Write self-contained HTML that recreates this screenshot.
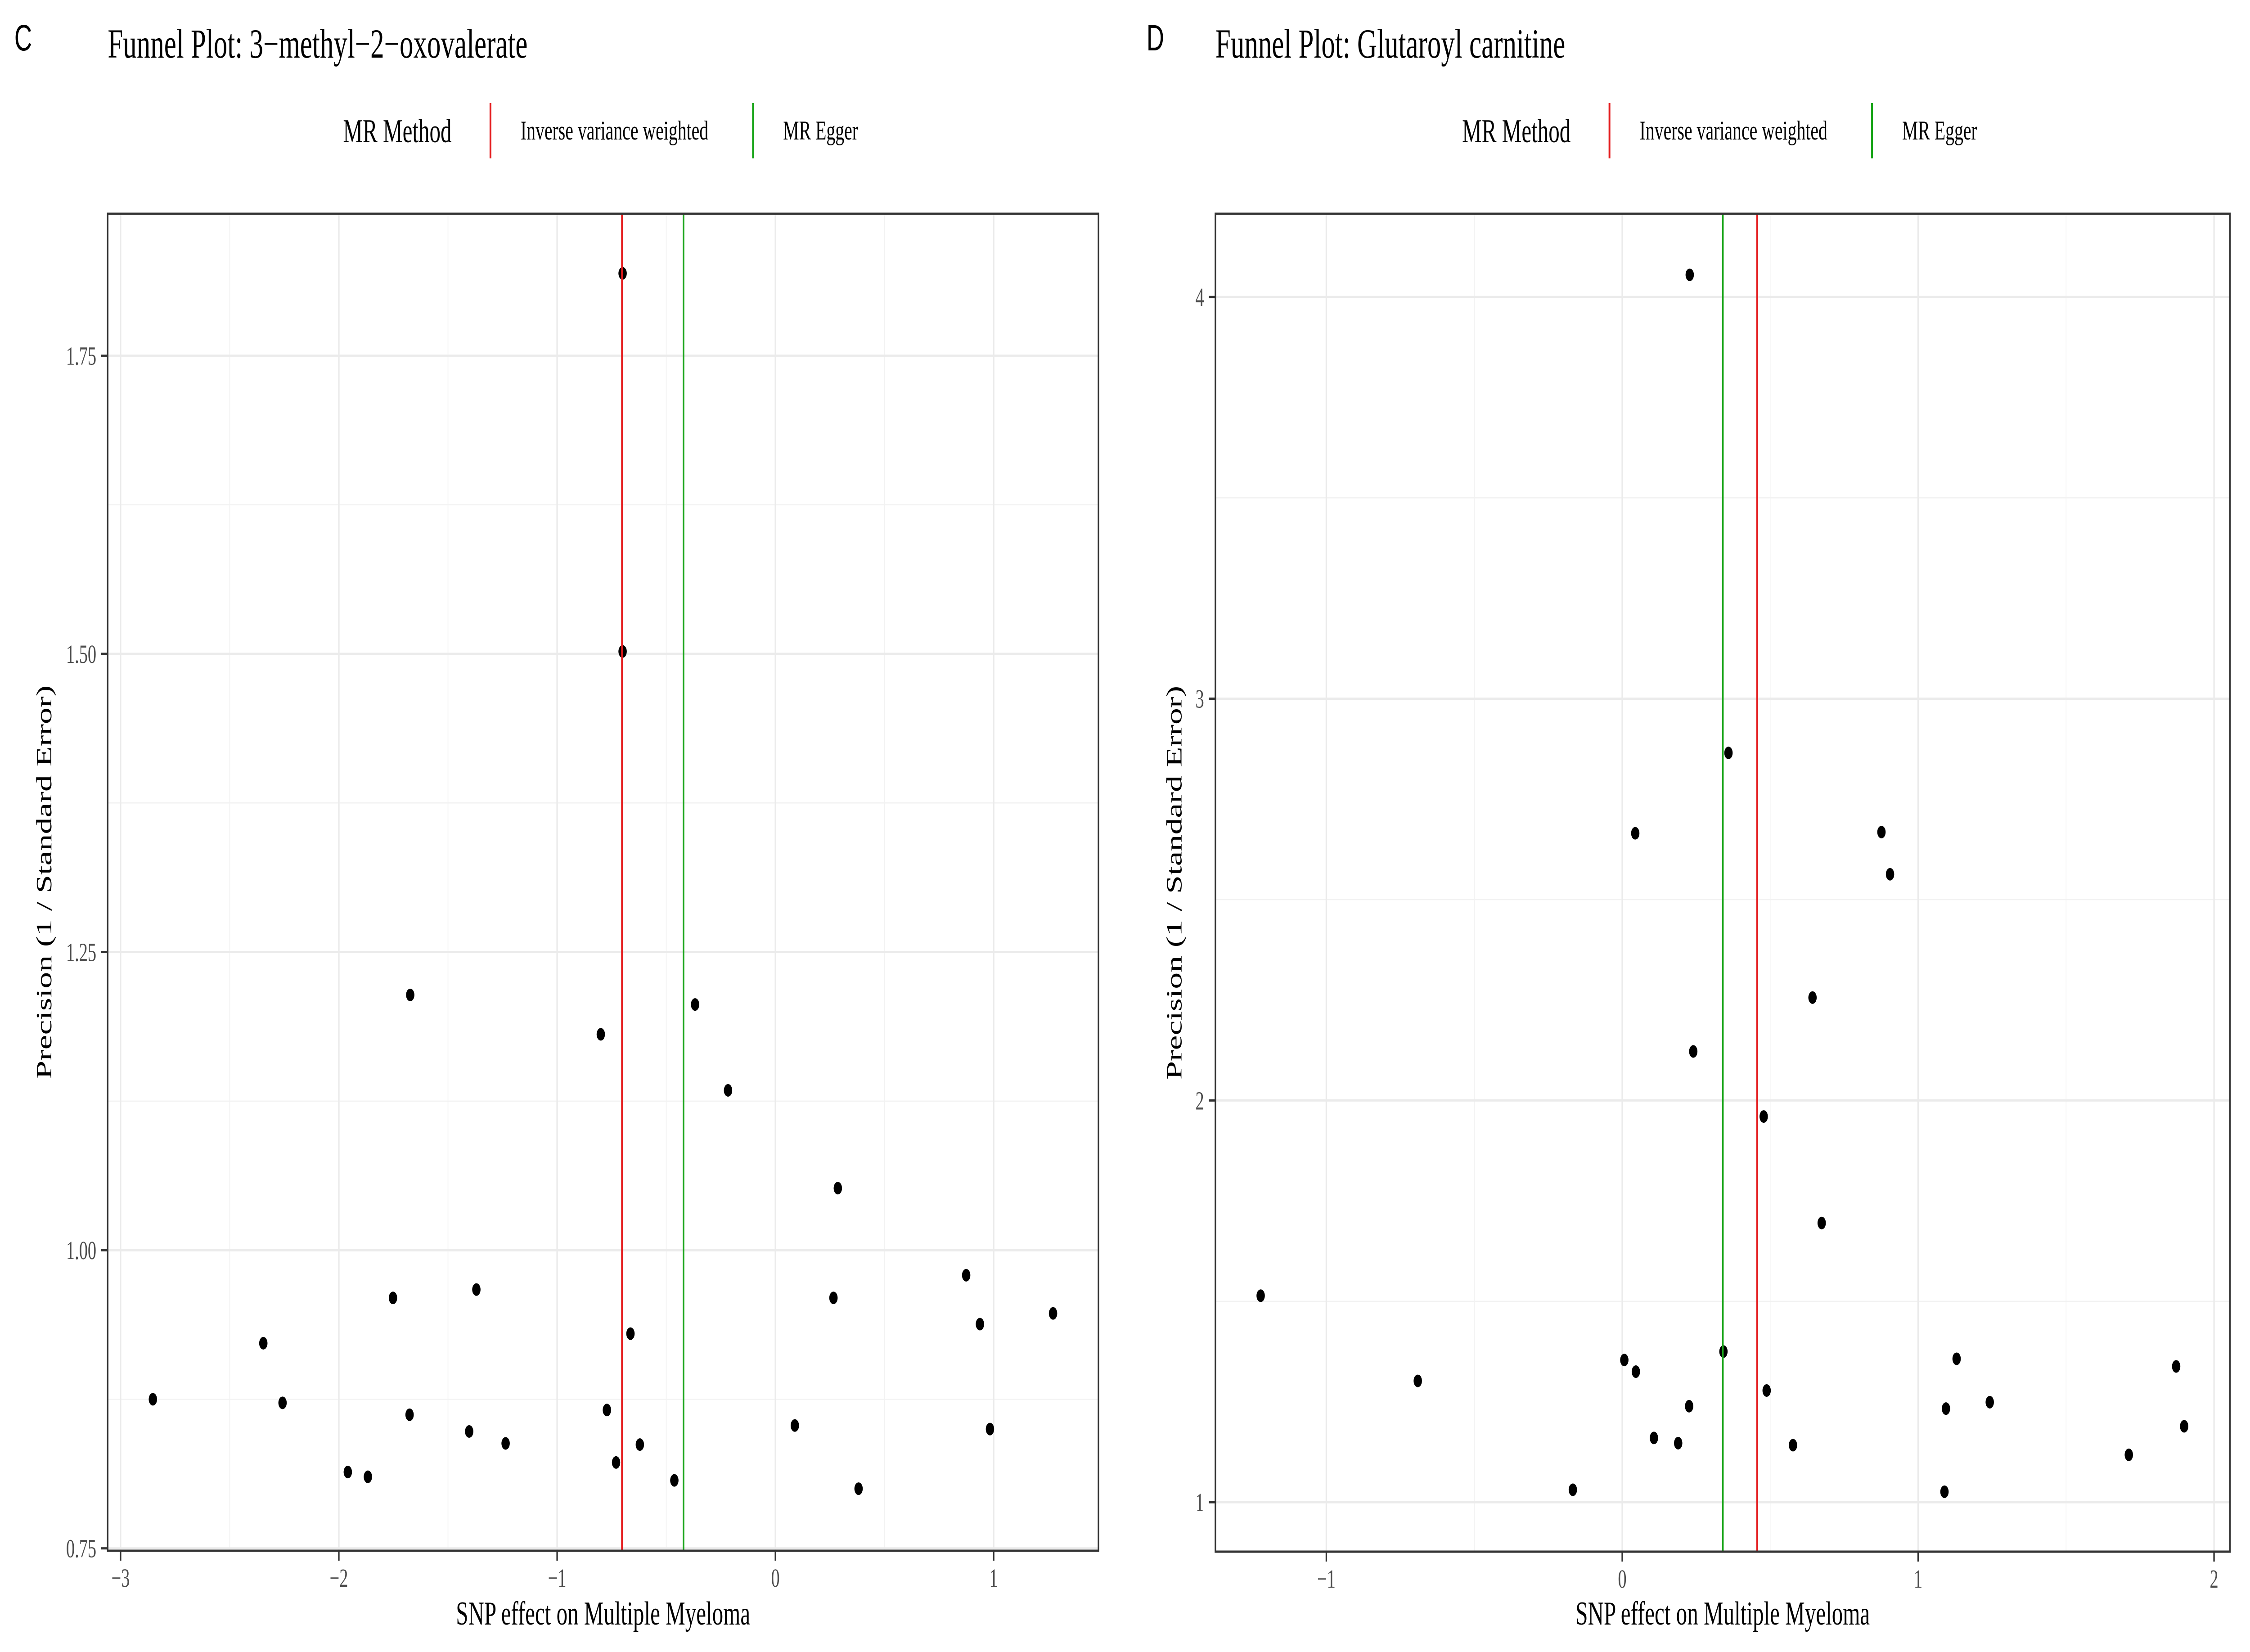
<!DOCTYPE html>
<html><head><meta charset="utf-8"><style>
html,body{margin:0;padding:0;background:#fff;width:100%;height:100%;overflow:hidden;}
svg{display:block;width:100vw;height:100vh;}
</style></head><body>
<svg id="fig" viewBox="0 0 7542 3671" preserveAspectRatio="none" xmlns="http://www.w3.org/2000/svg" font-family="Liberation Serif, serif">
<rect width="7542" height="3671" fill="#fff"/>
</svg>
<script>
// Panel C data
const cX = [-0.70,-0.70,-1.673,-0.80,-0.368,-0.217,0.286,0.874,0.937,1.272,0.266,0.089,0.983,0.381,-1.752,-1.370,-2.346,-2.852,-2.258,-1.676,-1.959,-1.867,-1.403,-1.236,-0.772,-0.664,-0.730,-0.621,-0.463];
const cY = [1.819,1.502,1.214,1.181,1.206,1.134,1.052,0.979,0.938,0.947,0.960,0.853,0.850,0.800,0.960,0.967,0.922,0.875,0.872,0.862,0.814,0.810,0.848,0.838,0.866,0.930,0.822,0.837,0.807];
const cIVW = -0.703;
const cEgger = -0.421;
const cXTicks = [-3,-2,-1,0,1];
const cXTickLabels = ["\u22123","\u22122","\u22121","0","1"];
const cYTicks = [0.75,1.00,1.25,1.50,1.75];
const cYTickLabels = ["0.75","1.00","1.25","1.50","1.75"];
// Panel D data
const dX = [0.228,0.359,0.044,0.876,0.905,0.643,0.240,0.478,0.674,-1.222,-0.691,0.007,0.046,0.342,0.226,0.488,0.107,0.189,-0.167,0.577,1.130,1.094,1.242,1.089,1.872,1.899,1.712];
const dY = [4.055,2.865,2.665,2.668,2.563,2.256,2.122,1.960,1.695,1.514,1.302,1.354,1.325,1.375,1.239,1.278,1.160,1.147,1.031,1.142,1.357,1.233,1.249,1.026,1.338,1.189,1.118];
const dIVW = 0.456;
const dEgger = 0.340;
const dXTicks = [-1,0,1,2];
const dXTickLabels = ["\u22121","0","1","2"];
const dYTicks = [1,2,3,4];
const dYTickLabels = ["1","2","3","4"];

const NS="http://www.w3.org/2000/svg";
const svg=document.getElementById('fig');
function mk(tag,attrs,parent){const e=document.createElementNS(NS,tag);for(const k in attrs)e.setAttribute(k,attrs[k]);(parent||svg).appendChild(e);return e;}

function panel(o){
  const g=mk('g',{});
  
  
  const sx=v=>o.L+(v-o.xmin)/(o.xmax-o.xmin)*(o.R-o.L);
  const sy=v=>o.B-(v-o.ymin)/(o.ymax-o.ymin)*(o.B-o.T);
  const lt=mk('text',{x:o.letterX,y:112,'font-size':82,fill:'#000','font-family':'Liberation Sans, sans-serif'},g);
  lt.textContent=o.letter;
  
  
  const tt=mk('text',{x:o.L,y:128,'font-size':92,fill:'#000'},g);
  tt.textContent=o.title;
  
  
  const lg=mk('g',{},g);
  
  
  const lh=mk('text',{x:o.legX,y:316,'font-size':74,fill:'#000'},lg);
  lh.textContent='MR Method';
  
  
  const items=[['Inverse variance weighted','#e41a1c','legend-entry-ivw'],['MR Egger','#1aa51a','legend-entry-egger']];
  let lx=o.legX+494;
  items.forEach((it)=>{
    const e=mk('g',{},lg);
    
    
    mk('line',{x1:lx,x2:lx,y1:229,y2:352,stroke:it[1],'stroke-width':6},e);
    const t=mk('text',{x:lx+101,y:310,'font-size':60,fill:'#000'},e);
    t.textContent=it[0];
    lx+=880;
  });
  mk('rect',{x:o.L,y:o.T,width:o.R-o.L,height:o.B-o.T,fill:'#fff'},g);
  const grid=mk('g',{},g);
  
  
  const xt=o.xTicks, yt=o.yTicks;
  for(let i=0;i<xt.length+1;i++){
    const step=xt[1]-xt[0];
    const m=xt[0]-step/2+i*step;
    if(m>o.xmin&&m<o.xmax) mk('line',{x1:sx(m),x2:sx(m),y1:o.T,y2:o.B,stroke:'#f2f2f2','stroke-width':2.5},grid);
  }
  for(let i=0;i<yt.length+1;i++){
    const step=yt[1]-yt[0];
    const m=yt[0]-step/2+i*step;
    if(m>o.ymin&&m<o.ymax) mk('line',{y1:sy(m),y2:sy(m),x1:o.L,x2:o.R,stroke:'#f2f2f2','stroke-width':2.5},grid);
  }
  xt.forEach(v=>mk('line',{x1:sx(v),x2:sx(v),y1:o.T,y2:o.B,stroke:'#ebebeb','stroke-width':5},grid));
  yt.forEach(v=>mk('line',{y1:sy(v),y2:sy(v),x1:o.L,x2:o.R,stroke:'#ebebeb','stroke-width':5},grid));
  const pts=mk('g',{},g);
  
  
  o.xs.forEach((v,i)=>{
    const c=mk('circle',{cx:sx(v),cy:sy(o.ys[i]),r:14,fill:'#000'},pts);
    
    
  });
  const ivw=mk('line',{x1:sx(o.ivw),x2:sx(o.ivw),y1:o.T,y2:o.B,stroke:'#e41a1c','stroke-width':5.5},g);
  
  
  const eg=mk('line',{x1:sx(o.egger),x2:sx(o.egger),y1:o.T,y2:o.B,stroke:'#1aa51a','stroke-width':5.5},g);
  
  
  const br=mk('rect',{x:o.L,y:o.T,width:o.R-o.L,height:o.B-o.T,fill:'none',stroke:'#333','stroke-width':5},g);
  
  
  const xa=mk('g',{},g);
  
  
  xt.forEach((v,i)=>{
    mk('line',{x1:sx(v),x2:sx(v),y1:o.B,y2:o.B+22,stroke:'#333','stroke-width':5},xa);
    const t=mk('text',{x:sx(v),y:o.B+80,'font-size':58,fill:'#4d4d4d','text-anchor':'middle'},xa);
    t.textContent=o.xLabels[i];
  });
  const ya=mk('g',{},g);
  
  
  yt.forEach((v,i)=>{
    mk('line',{x1:o.L-22,x2:o.L,y1:sy(v),y2:sy(v),stroke:'#333','stroke-width':5},ya);
    const t=mk('text',{x:o.L-38,y:sy(v)+20,'font-size':58,fill:'#4d4d4d','text-anchor':'end'},ya);
    t.textContent=o.yLabels[i];
  });
  const xtl=mk('text',{x:(o.L+o.R)/2,y:3610,'font-size':74,fill:'#000','text-anchor':'middle'},g);
  xtl.textContent='SNP effect on Multiple Myeloma';
  
  
  const cy=(o.T+o.B)/2;
  const ytl=mk('text',{x:o.yTitleX,y:cy,'font-size':74,fill:'#000','text-anchor':'middle',transform:`rotate(-90 ${o.yTitleX} ${cy})`},g);
  ytl.textContent='Precision (1 / Standard Error)';
  
  
}

panel({name:'panel-c',letter:'C',letterX:48,title:'Funnel Plot: 3\u2212methyl\u22122\u2212oxovalerate',
  L:361,R:3682,T:475,B:3446,xmin:-3.059,xmax:1.480,ymin:0.748,ymax:1.869,
  xTicks:cXTicks,xLabels:cXTickLabels,yTicks:cYTicks,yLabels:cYTickLabels,
  xs:cX,ys:cY,ivw:cIVW,egger:cEgger,legX:1150,yTitleX:172});
panel({name:'panel-d',letter:'D',letterX:3843,title:'Funnel Plot: Glutaroyl carnitine',
  L:4074,R:7475,T:475,B:3448,xmin:-1.375,xmax:2.054,ymin:0.877,ymax:4.207,
  xTicks:dXTicks,xLabels:dXTickLabels,yTicks:dYTicks,yLabels:dYTickLabels,
  xs:dX,ys:dY,ivw:dIVW,egger:dEgger,legX:4901,yTitleX:3960});
</script>
</body></html>
